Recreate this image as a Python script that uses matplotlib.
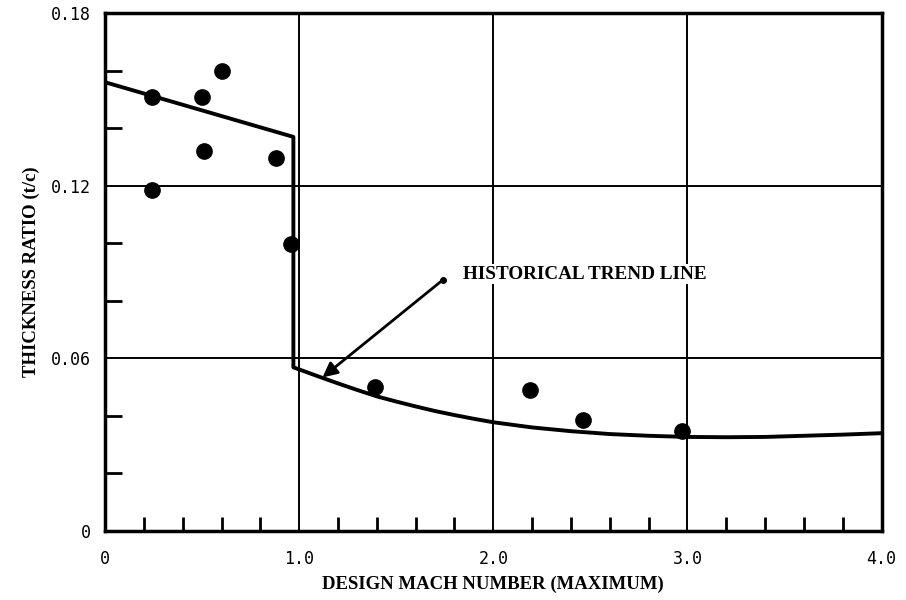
import matplotlib.pyplot as plt
from matplotlib.ticker import MultipleLocator

# data
mach_points = [0.24, 0.24, 0.50, 0.51, 0.60, 0.88, 0.96, 1.39, 2.19, 2.46, 2.97]
tc_points = [0.151, 0.1186, 0.151, 0.132, 0.160, 0.1296, 0.0999, 0.050, 0.0489, 0.0385, 0.0347]

trend_mach = [0, 0.97, 0.97, 1.1, 1.2, 1.3, 1.4, 1.5, 1.6, 1.7, 1.8, 1.9, 2.0,
              2.2, 2.4, 2.6, 2.8, 3.0, 3.2, 3.4, 3.6, 3.8, 4.0]
trend_tc = [0.156, 0.137, 0.0569, 0.0537, 0.0513, 0.0490, 0.0468, 0.0450, 0.0433,
            0.0417, 0.0403, 0.0390, 0.0378, 0.0360, 0.0347, 0.0337, 0.0331,
            0.0327, 0.0326, 0.0327, 0.0331, 0.0335, 0.0340]

x_ticks = [0, 1, 2, 3, 4]
x_labels = ['0', '1.0', '2.0', '3.0', '4.0']
y_ticks = [0, 0.06, 0.12, 0.18]
y_labels = ['0', '0.06', '0.12', '0.18']


def main():
    fig = plt.figure(figsize=(9.06, 6), dpi=100)
    ax = fig.add_axes([0.116, 0.115, 0.857, 0.863])

    # 网格
    ax.set_xlim(0, 4)
    ax.set_ylim(0, 0.18)
    ax.set_xticks(x_ticks)
    ax.set_xticklabels(x_labels)
    ax.set_yticks(y_ticks)
    ax.set_yticklabels(y_labels)
    ax.grid(True, color='black', linewidth=1.4)
    ax.xaxis.set_minor_locator(MultipleLocator(0.2))
    ax.yaxis.set_minor_locator(MultipleLocator(0.02))
    ax.tick_params(which='major', length=0, pad=10)
    ax.tick_params(axis='x', which='major', pad=14)
    ax.tick_params(which='minor', direction='in', width=2)
    ax.tick_params(axis='x', which='minor', length=10)
    ax.tick_params(axis='y', which='minor', length=12)
    for lab in ax.get_xticklabels() + ax.get_yticklabels():
        lab.set_family('DejaVu Sans Mono')
        lab.set_fontsize(12)
    for sp in ax.spines.values():
        sp.set_linewidth(2.5)

    # 趋势线和数据点
    ax.plot(trend_mach, trend_tc, color='black', linewidth=2.8, zorder=3)
    ax.plot(mach_points, tc_points, 'o', color='black', markersize=11, zorder=4)

    ax.annotate('', xy=(1.12, 0.0534), xytext=(1.742, 0.0874),
                arrowprops=dict(arrowstyle='-|>', color='black', lw=2,
                                mutation_scale=22, shrinkA=0, shrinkB=0),
                zorder=5)
    ax.plot([1.742], [0.0874], 'o', color='black', markersize=4, zorder=5)
    ax.text(1.845, 0.0893, 'HISTORICAL TREND LINE', family='Liberation Serif',
            fontweight='bold', fontsize=13.8, va='center', ha='left',
            bbox=dict(facecolor='white', edgecolor='none', pad=1), zorder=5)

    ax.set_xlabel('DESIGN MACH NUMBER (MAXIMUM)', family='Liberation Serif',
                  fontweight='bold', fontsize=13.5, labelpad=5)
    ax.set_ylabel('THICKNESS RATIO (t/c)', family='Liberation Serif',
                  fontweight='bold', fontsize=13.5, labelpad=8)

    plt.savefig('out.png', dpi=100)


if __name__ == '__main__':
    main()
